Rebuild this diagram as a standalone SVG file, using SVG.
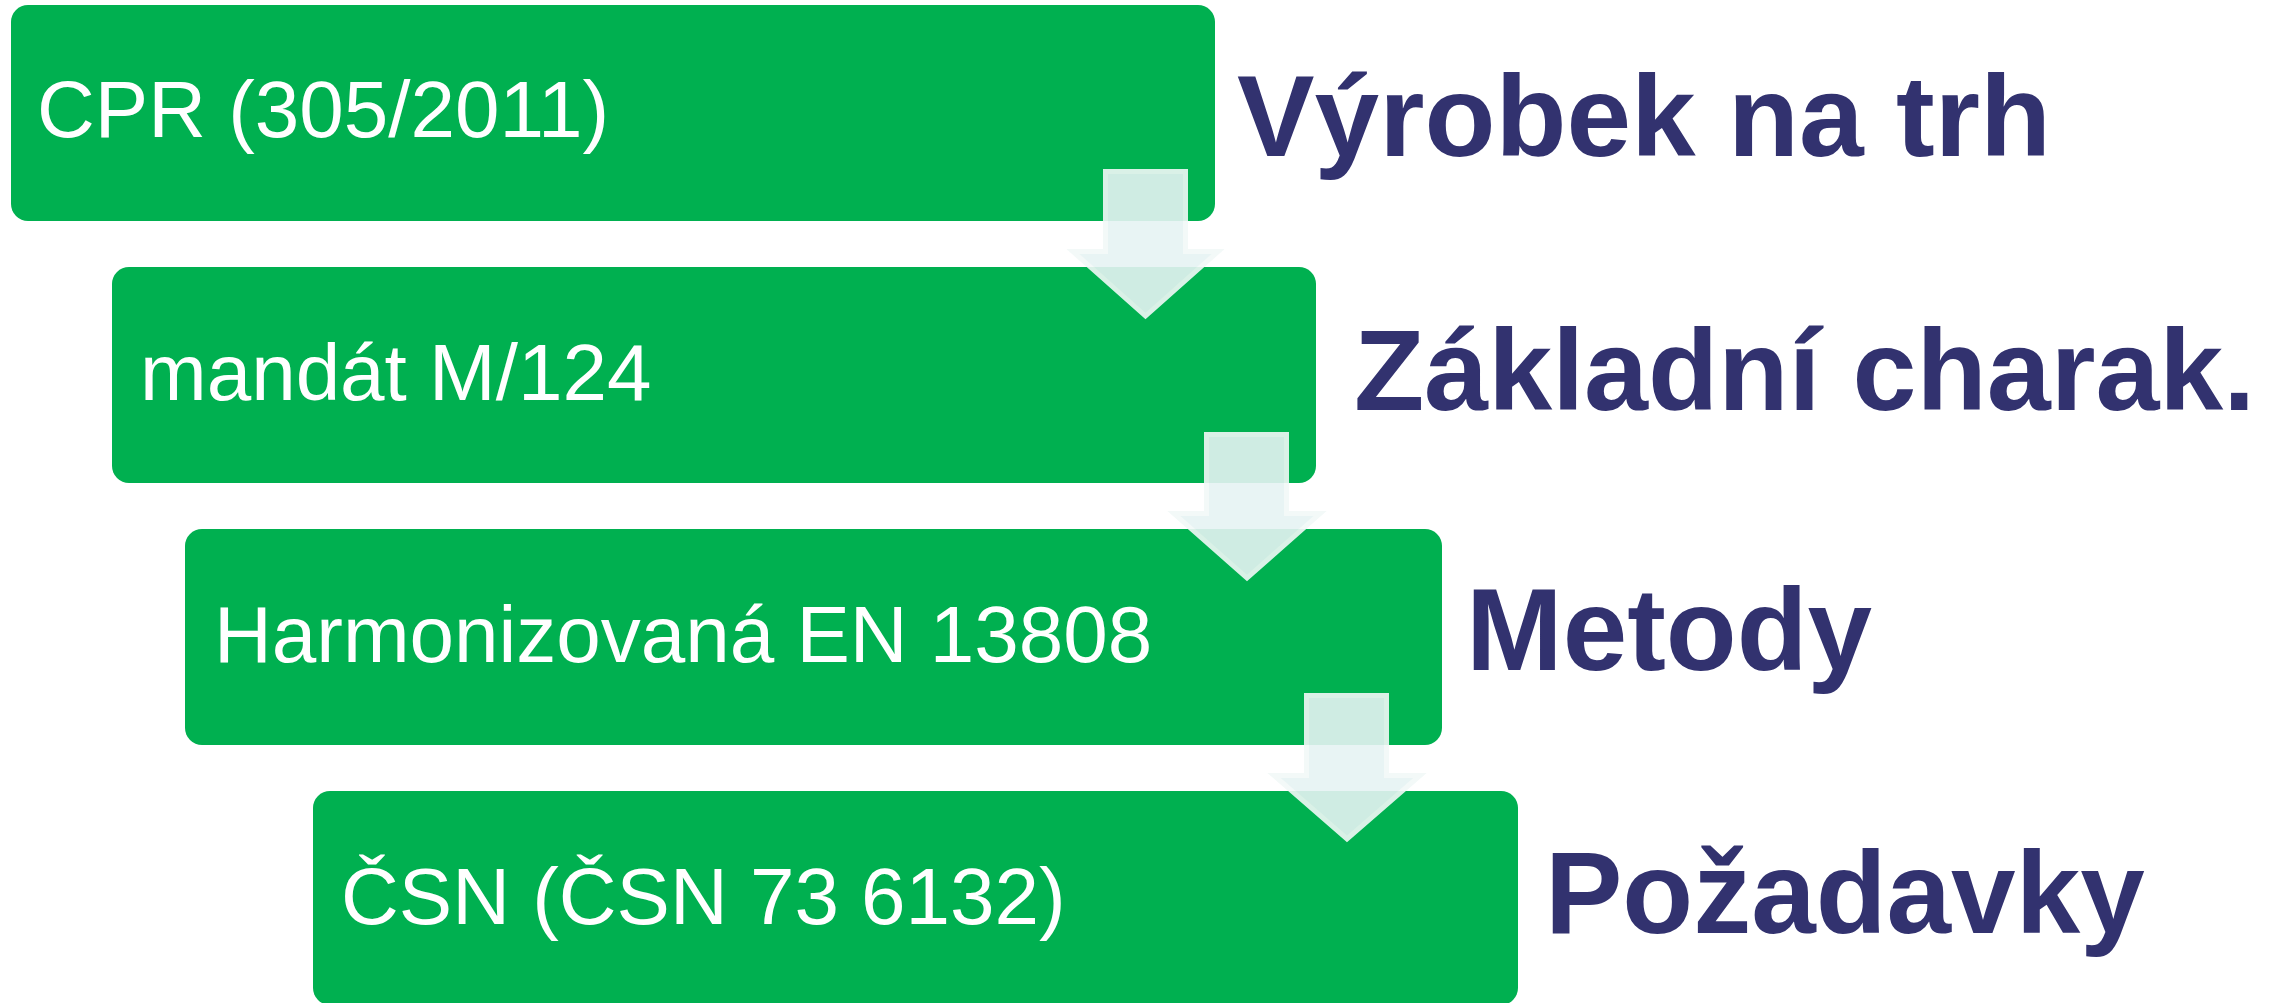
<svg xmlns="http://www.w3.org/2000/svg" width="2274" height="1003" viewBox="0 0 2274 1003">
<style>
.box{fill:#00b050}
.lt{font-family:"Liberation Sans",Arial,sans-serif;font-size:80px;fill:#ffffff}
.rt{font-family:"Liberation Sans",Arial,sans-serif;font-size:115px;font-weight:bold;fill:#32326f}
.arr{fill:#e6f3f3;stroke:#f2f9f8;stroke-width:5;stroke-linejoin:miter}
</style>
<rect width="2274" height="1003" fill="#ffffff"/>
<g id="node1">
<rect class="box" x="11" y="5" width="1204" height="216" rx="17"/>
<text class="lt" x="37" y="137">CPR (305/2011)</text>
</g>
<g id="node2">
<rect class="box" x="112" y="267" width="1204" height="216" rx="17"/>
<text class="lt" x="140" y="400">mandát M/124</text>
</g>
<g id="node3">
<rect class="box" x="185" y="529" width="1257" height="216" rx="17"/>
<text class="lt" x="214" y="662">Harmonizovaná EN 13808</text>
</g>
<g id="node4">
<rect class="box" x="313" y="791" width="1205" height="214" rx="17"/>
<text class="lt" x="341" y="924">ČSN (ČSN 73 6132)</text>
</g>
<g id="label1"><text class="rt" x="1237" y="156" textLength="814" lengthAdjust="spacingAndGlyphs">Výrobek na trh</text></g>
<g id="label2"><text class="rt" x="1354" y="410">Základní charak.</text></g>
<g id="label3"><text class="rt" x="1466" y="670" style="font-size:116px">Metody</text></g>
<g id="label4"><text class="rt" x="1545" y="933" style="font-size:116px">Požadavky</text></g>
<g id="connectors" opacity="0.9">
<path class="arr" d="M1105.5 171.5 H1185.5 V251.5 H1218 L1145.5 316 L1073 251.5 H1105.5 Z"/>
<path class="arr" d="M1206.5 434.5 H1286.5 V513.5 H1320 L1247 578 L1174 513.5 H1206.5 Z"/>
<path class="arr" d="M1306.5 695.5 H1386.5 V775.5 H1420 L1347 839 L1274 775.5 H1306.5 Z"/>
</g>
</svg>
